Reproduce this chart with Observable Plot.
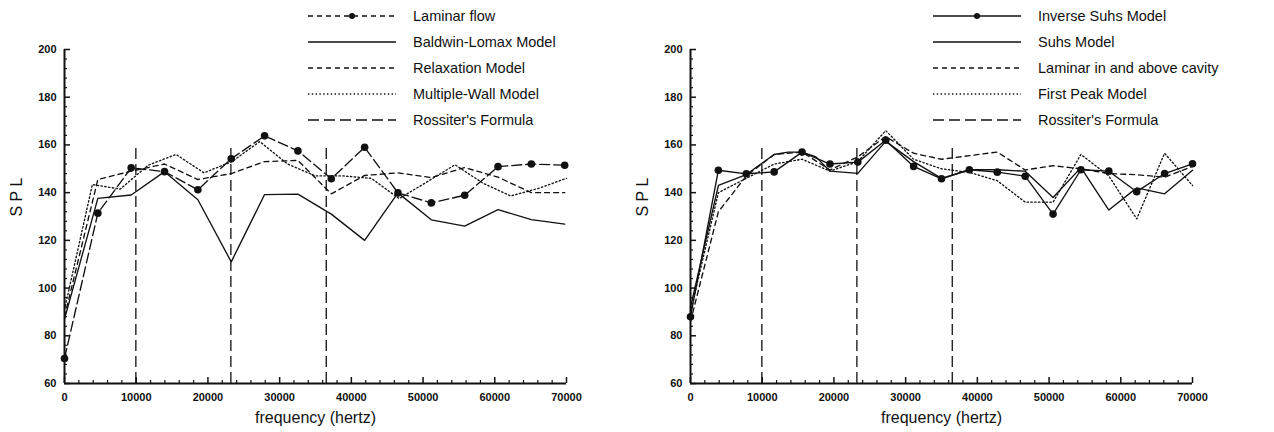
<!DOCTYPE html>
<html>
<head>
<meta charset="utf-8">
<script src="https://cdn.jsdelivr.net/npm/d3@7"></script>
<script src="https://cdn.jsdelivr.net/npm/@observablehq/plot@0.6"></script>
<style>
  body { margin: 0; background: #fff; }
  #wrap { position: relative; width: 1274px; height: 432px; overflow: hidden; font-family: "Liberation Sans", Arial, sans-serif; color: #111; }
  .panel { position: absolute; top: 0; }
  .legend { position: absolute; top: 0; }
  .legend .row { position: absolute; left: 0; height: 20px; display: flex; align-items: center; white-space: nowrap; font-size: 14.5px; }
  .legend .row svg { display: block; margin-right: 17px; }
</style>
</head>
<body>
<div id="wrap">
  <div id="left" class="panel" style="left:0"></div>
  <div id="right" class="panel" style="left:626px"></div>
  <div id="legL" class="legend" style="left:308px"></div>
  <div id="legR" class="legend" style="left:933px"></div>
</div>
<script>
// Frequency samples (Hz)
const freqA = [0, 4650, 9300, 13950, 18600, 23250, 27900, 32550, 37200, 41850, 46500, 51150, 55800, 60450, 65100, 69750];
const freqB = [0, 3889, 7778, 11667, 15556, 19444, 23333, 27222, 31111, 35000, 38889, 42778, 46667, 50556, 54444, 58333, 62222, 66111, 70000];
const freqSuhs = [0, 3889, 7778, 11667, 13611, 15556, 17500, 19444, 23333, 27222, 31111, 35000, 38889, 42778, 46667, 50556, 54444, 58333, 62222, 66111, 70000];

// Rossiter's formula mode frequencies (Hz), drawn up to SPL 160
const rossiterHz = [9950, 23200, 36500];
const rossiterTop = 160;

// Left panel: SPL (dB)
const laminarFlow   = [70.5, 131.4, 150.4, 148.8, 141.2, 154.2, 163.8, 157.5, 145.8, 159.0, 139.9, 135.7, 138.9, 150.9, 152.0, 151.5];
const baldwinLomax  = [87, 137.6, 139.0, 148.8, 137.0, 111.0, 139.2, 139.4, 131.0, 120.0, 139.9, 128.6, 126.0, 132.9, 128.7, 126.8];
const relaxation    = [88, 145.5, 149.0, 152.0, 145.5, 148.0, 153.0, 153.5, 139.5, 147.2, 148.3, 146.3, 150.5, 146.5, 140.0, 140.0];
const multipleWall  = [91, 143.4, 141.5, 151.5, 156.0, 148.3, 153.0, 161.4, 152.0, 147.0, 147.0, 146.0, 137.5, 144.5, 151.7, 144.0, 138.6, 141.8, 146.0];

// Right panel: SPL (dB)
const inverseSuhs   = [88, 149.4, 147.9, 148.7, 157.0, 152.0, 152.8, 162.0, 151.0, 145.8, 149.6, 148.6, 146.9, 131.0, 149.6, 149.0, 140.4, 148.0, 152.1];
const suhs          = [92, 143.0, 147.6, 156.0, 157.0, 157.0, 155.0, 149.0, 148.1, 161.5, 153.0, 146.0, 149.6, 149.6, 149.0, 138.0, 150.5, 132.7, 142.0, 139.5, 149.4];
const laminarCavity = [86, 132.0, 147.0, 156.0, 157.0, 149.5, 155.0, 163.5, 156.5, 154.0, 155.5, 157.0, 149.5, 151.3, 150.0, 148.0, 147.5, 146.5, 151.0];
const firstPeak     = [90, 140.0, 146.0, 152.0, 154.0, 149.0, 153.0, 166.0, 154.0, 150.0, 148.5, 145.0, 136.0, 136.0, 156.0, 147.0, 129.0, 156.5, 143.0];

// Axis ticks
const xMajor = [0, 10000, 20000, 30000, 40000, 50000, 60000, 70000];
const xMinor = d3.range(0, 70001, 2000).filter(v => v % 10000 !== 0);
const yMajor = [60, 80, 100, 120, 140, 160, 180, 200];
const yMinor = d3.range(60, 201, 4).filter(v => v % 20 !== 0);

const ink = "#111";
const rows = (xs, ys) => xs.map((x, i) => ({x, y: ys[i]}));

const styles = {
  solid:   {},
  dashed:  {strokeDasharray: "5,4"},
  long:    {strokeDasharray: "10,4"},
  dotted:  {strokeDasharray: "1.4,2.4"},
  rossiter:{strokeDasharray: "11,5"}
};

function panel(series, markers) {
  return Plot.plot({
    width: 620,
    height: 432,
    marginLeft: 64,
    marginRight: 54,
    marginTop: 49,
    marginBottom: 49,
    x: {domain: [0, 70000]},
    y: {domain: [60, 200]},
    style: {fontFamily: "'Liberation Sans', Arial, sans-serif", fontSize: "11px", fontWeight: "bold", color: ink, background: "transparent"},
    marks: [
      Plot.axisX({ticks: xMajor, tickSize: -6, tickPadding: 16, tickFormat: d => String(d), label: null, strokeWidth: 1.5}),
      Plot.axisX({ticks: xMinor, tickSize: -3, tickFormat: () => "", label: null, strokeWidth: 1.2}),
      Plot.axisY({ticks: yMajor, tickSize: -6, tickPadding: 14, label: null, strokeWidth: 1.5}),
      Plot.axisY({ticks: yMinor, tickSize: -3, tickFormat: () => "", label: null, strokeWidth: 1.2}),
      Plot.ruleY([60], {stroke: ink, strokeWidth: 2}),
      Plot.ruleX([0], {stroke: ink, strokeWidth: 2}),
      Plot.text(["S P L"], {frameAnchor: "left", dx: -48, rotate: -90, fontSize: 16, fontWeight: "normal", fill: ink}),
      Plot.text(["frequency (hertz)"], {frameAnchor: "bottom", dy: 39, fontSize: 16, fontWeight: "normal", fill: ink}),
      Plot.ruleX(rossiterHz, {x: d => d, y1: 60, y2: rossiterTop, stroke: ink, strokeWidth: 1.3, ...styles.rossiter}),
      ...series.map(s => Plot.line(s.data, {x: "x", y: "y", stroke: ink, strokeWidth: 1.35, ...styles[s.style]})),
      ...markers.map(m => Plot.dot(m, {x: "x", y: "y", r: 3.8, fill: ink, stroke: null}))
    ]
  });
}

const leftData = rows(freqA, laminarFlow);
document.getElementById("left").append(panel([
  {data: rows(freqA, baldwinLomax), style: "solid"},
  {data: rows(freqA, relaxation), style: "dashed"},
  {data: rows(freqB, multipleWall), style: "dotted"},
  {data: leftData, style: "long"}
], [leftData]));

const rightData = rows(freqB, inverseSuhs);
document.getElementById("right").append(panel([
  {data: rows(freqSuhs, suhs), style: "solid"},
  {data: rows(freqB, laminarCavity), style: "dashed"},
  {data: rows(freqB, firstPeak), style: "dotted"},
  {data: rightData, style: "solid"}
], [rightData]));

// Legends: a short line sample followed by the series name
function legend(id, entries) {
  const host = document.getElementById(id);
  entries.forEach((e, i) => {
    const row = document.createElement("div");
    row.className = "row";
    row.style.top = (6 + i * 26) + "px";
    const w = 88;
    const dash = e.style === "solid" ? "" : `stroke-dasharray="${styles[e.style].strokeDasharray}"`;
    row.innerHTML = `<svg width="${w}" height="10"><line x1="0" y1="5" x2="${w}" y2="5" stroke="${ink}" stroke-width="1.3" ${dash}/>${e.dot ? `<circle cx="${w/2}" cy="5" r="3" fill="${ink}"/>` : ""}</svg><span>${e.label}</span>`;
    host.append(row);
  });
}
legend("legL", [
  {label: "Laminar flow", style: "dashed", dot: true},
  {label: "Baldwin-Lomax Model", style: "solid"},
  {label: "Relaxation Model", style: "dashed"},
  {label: "Multiple-Wall Model", style: "dotted"},
  {label: "Rossiter's Formula", style: "rossiter"}
]);
legend("legR", [
  {label: "Inverse Suhs Model", style: "solid", dot: true},
  {label: "Suhs Model", style: "solid"},
  {label: "Laminar in and above cavity", style: "dashed"},
  {label: "First Peak Model", style: "dotted"},
  {label: "Rossiter's Formula", style: "rossiter"}
]);
</script>
</body>
</html>
